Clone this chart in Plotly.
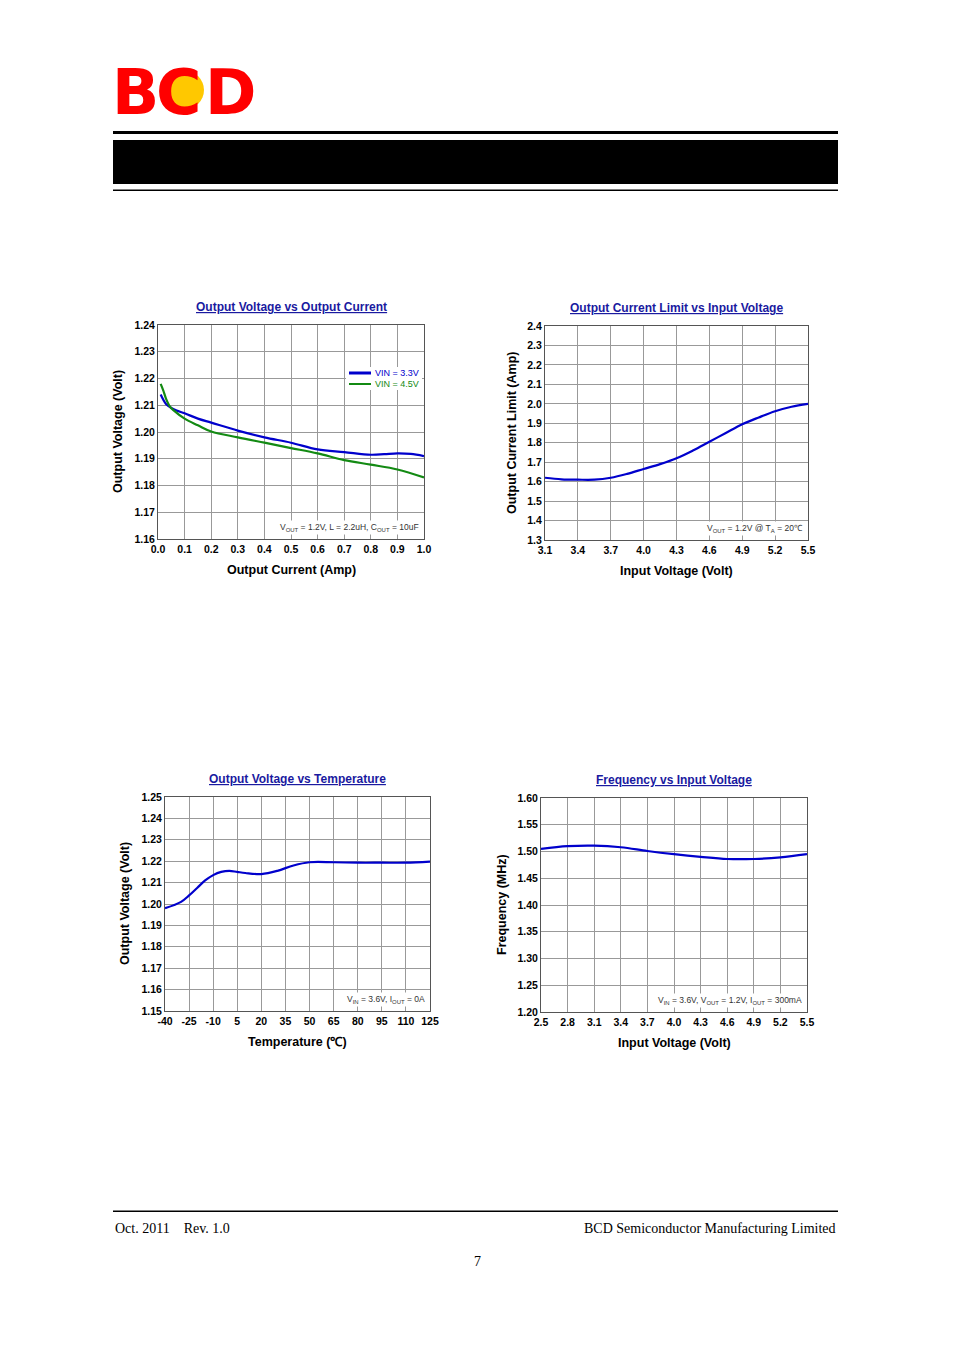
import plotly.graph_objects as go

W, H = 954, 1351
OFF = 8
# ---- data ----
c1_x = [0.01, 0.03, 0.05, 0.07, 0.1, 0.15, 0.2, 0.3, 0.4, 0.5, 0.6, 0.7, 0.8, 0.85, 0.9, 0.95, 1.0]
c1_b = [1.214, 1.2105, 1.209, 1.208, 1.207, 1.205, 1.2035, 1.2005, 1.198, 1.196, 1.1935, 1.1925, 1.1915, 1.1917, 1.192, 1.1918, 1.191]
c1_gx = [0.01, 0.02, 0.03, 0.045, 0.06, 0.1, 0.15, 0.2, 0.3, 0.4, 0.5, 0.6, 0.7, 0.8, 0.9, 1.0]
c1_g = [1.218, 1.2155, 1.2125, 1.2095, 1.208, 1.205, 1.2025, 1.2002, 1.198, 1.196, 1.194, 1.192, 1.1895, 1.1878, 1.186, 1.183]
c2_x = [3.1, 3.25, 3.4, 3.55, 3.7, 3.85, 4.0, 4.15, 4.3, 4.45, 4.6, 4.75, 4.9, 5.05, 5.2, 5.35, 5.5]
c2_y = [1.62, 1.612, 1.61, 1.61, 1.62, 1.64, 1.665, 1.69, 1.72, 1.76, 1.805, 1.85, 1.895, 1.93, 1.962, 1.985, 2.0]
c3_x = [-40, -30, -25, -20, -15, -10, -5, 0, 5, 10, 20, 30, 40, 50, 65, 80, 95, 110, 125]
c3_y = [1.198, 1.201, 1.204, 1.2075, 1.211, 1.2135, 1.215, 1.2155, 1.215, 1.2145, 1.214, 1.2155, 1.218, 1.2195, 1.2195, 1.2193, 1.2193, 1.2193, 1.2198]
c4_x = [2.5, 2.8, 3.1, 3.4, 3.7, 4.0, 4.3, 4.6, 4.9, 5.2, 5.5]
c4_y = [1.505, 1.51, 1.511, 1.508, 1.501, 1.495, 1.49, 1.486, 1.486, 1.489, 1.495]
c1_names = ["VIN = 3.3V", "VIN = 4.5V"]

c1_xt = [0.0, 0.1, 0.2, 0.3, 0.4, 0.5, 0.6, 0.7, 0.8, 0.9, 1.0]
c1_yt = [1.16, 1.17, 1.18, 1.19, 1.20, 1.21, 1.22, 1.23, 1.24]
c2_xt = [3.1, 3.4, 3.7, 4.0, 4.3, 4.6, 4.9, 5.2, 5.5]
c2_yt = [1.3, 1.4, 1.5, 1.6, 1.7, 1.8, 1.9, 2.0, 2.1, 2.2, 2.3, 2.4]
c3_xt = [-40, -25, -10, 5, 20, 35, 50, 65, 80, 95, 110, 125]
c3_yt = [1.15, 1.16, 1.17, 1.18, 1.19, 1.20, 1.21, 1.22, 1.23, 1.24, 1.25]
c4_xt = [2.5, 2.8, 3.1, 3.4, 3.7, 4.0, 4.3, 4.6, 4.9, 5.2, 5.5]
c4_yt = [1.20, 1.25, 1.30, 1.35, 1.40, 1.45, 1.50, 1.55, 1.60]

BLUE = "#0000cc"
GREEN = "#138a13"
TFONT = dict(family="Liberation Sans", size=12, color="#1a1aa0")
TICKF = dict(family="Liberation Sans", size=10.5, color="black")
fig = go.Figure()

def px(x): return (x - OFF) / W
def py(y): return 1 - (y - OFF) / H

def ann(text, x, y, font, xa="center", ya="middle", **kw):
    fig.add_annotation(text=text, x=px(x), y=py(y), xref="paper", yref="paper", xanchor=xa, yanchor=ya,
                       showarrow=False, font=font, **kw)

panels = [
    (158, 424, 325, 539, c1_xt, c1_yt, "%.1f", "%.2f", "Output Voltage vs Output Current", "Output Current (Amp)", "Output Voltage (Volt)",
     "V<sub>OUT</sub> = 1.2V, L = 2.2uH, C<sub>OUT</sub> = 10uF", 118),
    (545, 808, 326, 540, c2_xt, c2_yt, "%.1f", "%.1f", "Output Current Limit vs Input Voltage", "Input Voltage (Volt)", "Output Current Limit (Amp)",
     "V<sub>OUT</sub> = 1.2V @ T<sub>A</sub> = 20℃", 512),
    (165, 430, 797, 1011, c3_xt, c3_yt, "%d", "%.2f", "Output Voltage vs Temperature", "Temperature (℃)", "Output Voltage (Volt)",
     "V<sub>IN</sub> = 3.6V, I<sub>OUT</sub> = 0A", 125),
    (541, 807, 798, 1012, c4_xt, c4_yt, "%.1f", "%.2f", "Frequency vs Input Voltage", "Input Voltage (Volt)", "Frequency (MHz)",
     "V<sub>IN</sub> = 3.6V, V<sub>OUT</sub> = 1.2V, I<sub>OUT</sub> = 300mA", 502),
]

series = [[(c1_x, c1_b, BLUE), (c1_gx, c1_g, GREEN)],
          [(c2_x, c2_y, BLUE)], [(c3_x, c3_y, BLUE)], [(c4_x, c4_y, BLUE)]]

for i, (p, ss) in enumerate(zip(panels, series)):
    x0, x1, y0, y1, xt, yt, fx, fy, title, xl, yl, note, ylx = p
    n = "" if i == 0 else str(i + 1)
    fig.update_layout(**{
        "xaxis" + n: dict(domain=[px(x0), px(x1)], anchor="y" + n, range=[xt[0], xt[-1]],
                          tickvals=xt, ticktext=["<b>%s</b>" % (fx % v) for v in xt], showgrid=True, gridcolor="#999999",
                          gridwidth=1, showline=True, linecolor="#555", mirror=True, zeroline=False,
                          ticks="", tickfont=TICKF, fixedrange=True, automargin=False),
        "yaxis" + n: dict(domain=[py(y1), py(y0)], anchor="x" + n, range=[yt[0], yt[-1]],
                          tickvals=yt, ticktext=["<b>%s</b>" % (fy % v) for v in yt], showgrid=True, gridcolor="#999999",
                          showline=True, linecolor="#555", mirror=True, zeroline=False, ticks="",
                          tickfont=TICKF, fixedrange=True, automargin=False),
    })
    for (sx, sy, col) in ss:
        fig.add_trace(go.Scatter(x=sx, y=sy, mode="lines", line=dict(color=col, width=2.2, shape="spline"),
                                 xaxis="x" + n, yaxis="y" + n, showlegend=False))
    cx = (x0 + x1) / 2
    ann("<b><u>%s</u></b>" % title, cx, y0 - 18, TFONT)
    ann("<b>%s</b>" % xl, cx, y1 + 31, dict(family="Liberation Sans", size=12.5, color="black"))
    ann("<b>%s</b>" % yl, ylx, (y0 + y1) / 2, dict(family="Liberation Sans", size=12.5, color="black"), textangle=-90)
    ann(note, x1 - 3, y1 - 12, dict(family="Liberation Sans", size=8.5, color="#333"), xa="right", bgcolor="white")

shapes = [
    dict(type="rect", x0=px(113), x1=px(838), y0=py(134), y1=py(131), fillcolor="black", line_width=0),
    dict(type="rect", x0=px(113), x1=px(838), y0=py(184), y1=py(140), fillcolor="black", line_width=0),
    dict(type="rect", x0=px(113), x1=px(838), y0=py(191), y1=py(189.5), fillcolor="black", line_width=0),
    dict(type="rect", x0=px(113), x1=px(838), y0=py(1212), y1=py(1210.5), fillcolor="black", line_width=0),
    dict(type="rect", x0=px(346), x1=px(422), y0=py(390), y1=py(367), fillcolor="white", line_width=0),
    dict(type="line", x0=px(349), x1=px(371), y0=py(373), y1=py(373), line=dict(color=BLUE, width=3)),
    dict(type="line", x0=px(349), x1=px(371), y0=py(384), y1=py(384), line=dict(color=GREEN, width=2)),
    dict(type="circle", x0=px(166), x1=px(204), y0=py(109), y1=py(71), fillcolor="#ffc800", line_width=0,
         layer="below"),
]
for s in shapes:
    s.update(xref="paper", yref="paper")
fig.update_layout(shapes=shapes)
ann(c1_names[0], 373, 373, dict(family="Liberation Sans", size=9, color=BLUE), xa="left")
ann(c1_names[1], 373, 384, dict(family="Liberation Sans", size=9, color=GREEN), xa="left")

LF = dict(family="DejaVu Sans", size=62, color="#ff0000")
ann("<b>B</b>", 110, 92, LF, xa="left")
ann("<b>C</b>", 154, 92, LF, xa="left")
ann("<b>D</b>", 203, 92, LF, xa="left")
ff = dict(family="Liberation Serif", size=14, color="black")
ann("Oct. 2011&nbsp;&nbsp;&nbsp;&nbsp;Rev. 1.0", 113, 1228, ff, xa="left")
ann("BCD Semiconductor Manufacturing Limited", 838, 1228, ff, xa="right")
ann("7", 477, 1261, ff)

fig.update_layout(width=W, height=H, margin=dict(l=0, r=0, t=0, b=0, autoexpand=False),
                  paper_bgcolor="rgba(0,0,0,0)", plot_bgcolor="rgba(0,0,0,0)", showlegend=False)
fig.write_html("out.html")
